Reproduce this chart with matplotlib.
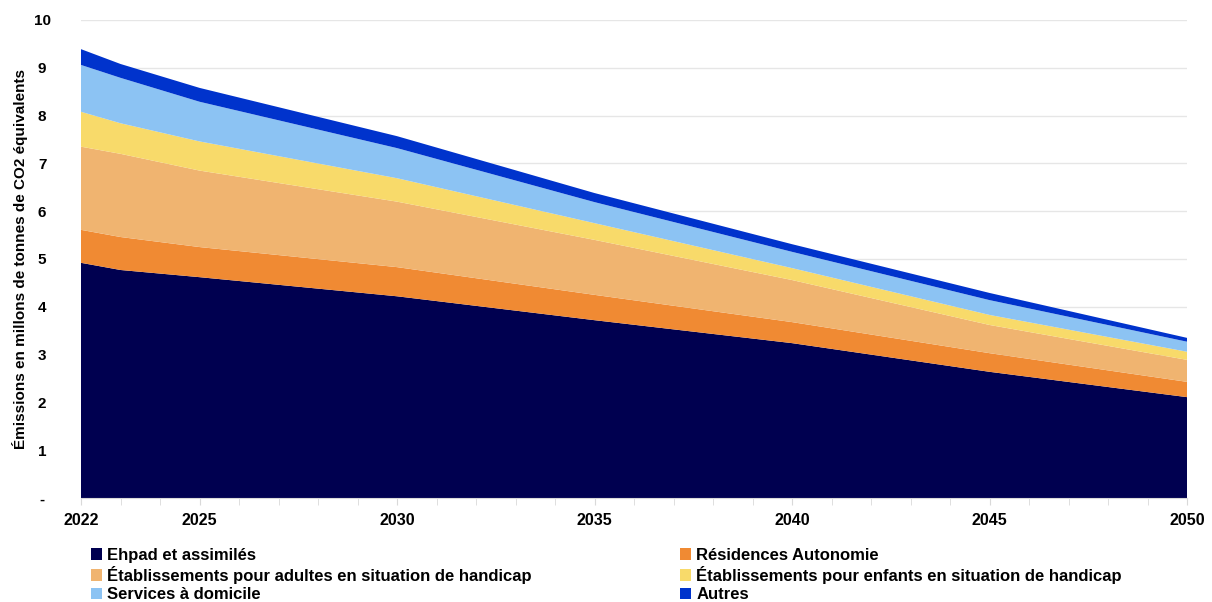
import matplotlib
matplotlib.use("Agg")
import matplotlib.pyplot as plt
from matplotlib.patches import Patch

plt.rcParams['font.family'] = ['Liberation Sans', 'DejaVu Sans']

years = [2022, 2023, 2025, 2030, 2035, 2040, 2045, 2050]
ehpad = [4.92, 4.77, 4.62, 4.22, 3.72, 3.24, 2.64, 2.11]
residences = [0.69, 0.69, 0.63, 0.61, 0.53, 0.44, 0.39, 0.32]
adultes = [1.74, 1.74, 1.60, 1.37, 1.15, 0.88, 0.59, 0.46]
enfants = [0.73, 0.64, 0.61, 0.49, 0.35, 0.25, 0.21, 0.17]
services = [0.98, 0.95, 0.83, 0.63, 0.44, 0.34, 0.31, 0.21]
autres = [0.33, 0.29, 0.29, 0.25, 0.19, 0.16, 0.15, 0.08]

labels = ["Ehpad et assimilés", "Résidences Autonomie",
          "Établissements pour adultes en situation de handicap",
          "Établissements pour enfants en situation de handicap",
          "Services à domicile", "Autres"]
colors = ["#000050", "#F08A33", "#F0B470", "#F8DA6A", "#8CC3F3", "#0033CC"]
xtick_labels = [2022, 2025, 2030, 2035, 2040, 2045, 2050]
ytick_vals = list(range(0, 11))
ytick_labels = ["-"] + [str(v) for v in range(1, 11)]

fig = plt.figure(figsize=(12.12, 6.02), dpi=100)
ax = fig.add_axes([81/1212, 1-498/602, (1187-81)/1212, (498-20)/602])

ax.stackplot(years, ehpad, residences, adultes, enfants, services, autres,
             colors=colors, linewidth=0, zorder=2)

ax.set_xlim(2022, 2050)
ax.set_ylim(0, 10)
ax.set_yticks(ytick_vals)
ax.set_yticklabels(ytick_labels, fontsize=11, fontweight='bold')
ax.set_xticks(xtick_labels)
ax.set_xticklabels([str(v) for v in xtick_labels], fontsize=11.5, fontweight='bold')
ax.set_xticks(list(range(2022, 2051)), minor=True)
ax.tick_params(axis='x', which='both', direction='out', length=5, color='#D9D9D9', pad=6)
ax.tick_params(axis='y', length=0, pad=28)
for lbl in ax.get_yticklabels():
    lbl.set_horizontalalignment('center')
ax.grid(axis='y', color='#E6E6E6', linewidth=1, zorder=0)
for s in ['top', 'right', 'left']:
    ax.spines[s].set_visible(False)
ax.spines['bottom'].set_color('#D9D9D9')

ax.set_ylabel("Émissions en millons de tonnes de CO2 équivalents", fontsize=11,
              fontweight='bold', labelpad=4)

handles = [Patch(facecolor=c, edgecolor='none') for c in colors]
kw = dict(frameon=False, handlelength=0.7, handleheight=0.7,
          handletextpad=0.3, labelspacing=0.2, borderaxespad=0,
          prop={'weight': 'bold', 'size': 12})
leg1 = fig.legend([handles[0], handles[2], handles[4]],
                  [labels[0], labels[2], labels[4]],
                  loc='upper left', bbox_to_anchor=(84/1212, 1-541/602), **kw)
leg2 = fig.legend([handles[1], handles[3], handles[5]],
                  [labels[1], labels[3], labels[5]],
                  loc='upper left', bbox_to_anchor=(673/1212, 1-541/602), **kw)

fig.savefig("out.png", dpi=100)
